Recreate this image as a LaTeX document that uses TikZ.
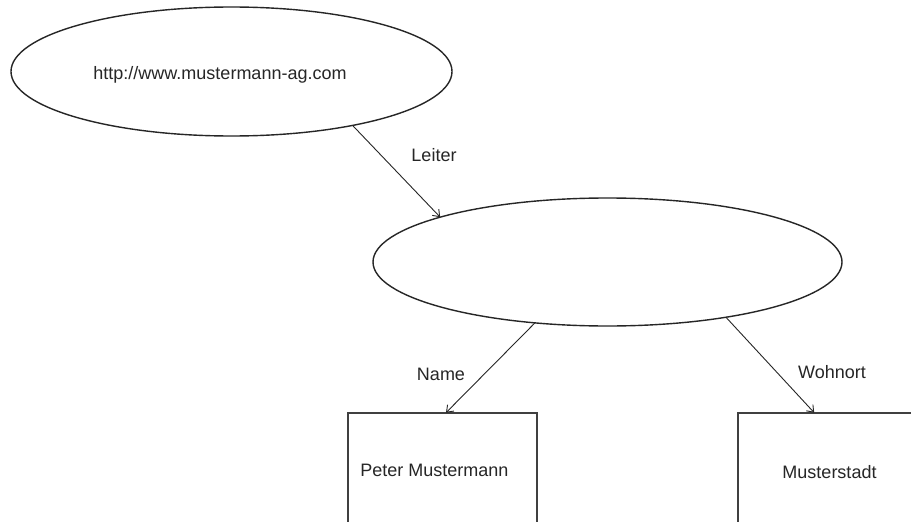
\documentclass[tikz,border=0pt]{standalone}
\usepackage{fontspec}
\setmainfont{Liberation Sans}
\usetikzlibrary{shapes.geometric,arrows.meta}
\begin{document}
\begin{tikzpicture}[x=1pt,y=-1pt,
  every node/.style={font=\fontsize{18}{20}\selectfont, text=black!85},
  resource/.style={ellipse, draw=black!85, line width=1.4pt, inner sep=0pt, outer sep=0pt},
  literal/.style={rectangle, draw=black!75, line width=2.2pt, anchor=north west,
    minimum width=189pt, minimum height=190pt, inner sep=0pt, outer sep=0pt},
  label/.style={inner sep=0pt},
  rel/.style={draw=black!85, line width=0.9pt, -{Straight Barb[length=6pt,width=9pt,line width=0.9pt]}}]
  \useasboundingbox (0,0) rectangle (911,522);
  \clip (0,0) rectangle (911,522);
  \fill[white] (0,0) rectangle (911,522);

  % resources
  \node[resource, minimum width=441pt, minimum height=129pt] (company) at (231.5,71.5) {};
  \node[label] (url) at (220,75) {http://www.mustermann-ag.com};
  \node[resource, minimum width=469pt, minimum height=128pt] (person) at (607.5,262) {};

  % literals
  \node[literal] (name) at (347.7,412.7) {};
  \node[literal] (town) at (737.7,412.7) {};
  \node[label] (nametext) at (434.5,470) {Peter Mustermann};
  \node[label] (towntext) at (829.5,472) {Musterstadt};

  % properties
  \draw[rel] (company.-24.9) -- (person.165.5);
  \draw[rel] (person.-140.9) -- ([xshift=3.8pt]name.north);
  \draw[rel] (person.-25.8) -- ([xshift=-18pt]town.north);

  \node[label] (leiter) at (434,155) {Leiter};
  \node[label] (namelbl) at (441,374) {Name};
  \node[label] (wohnort) at (832,372) {Wohnort};
\end{tikzpicture}
\end{document}
